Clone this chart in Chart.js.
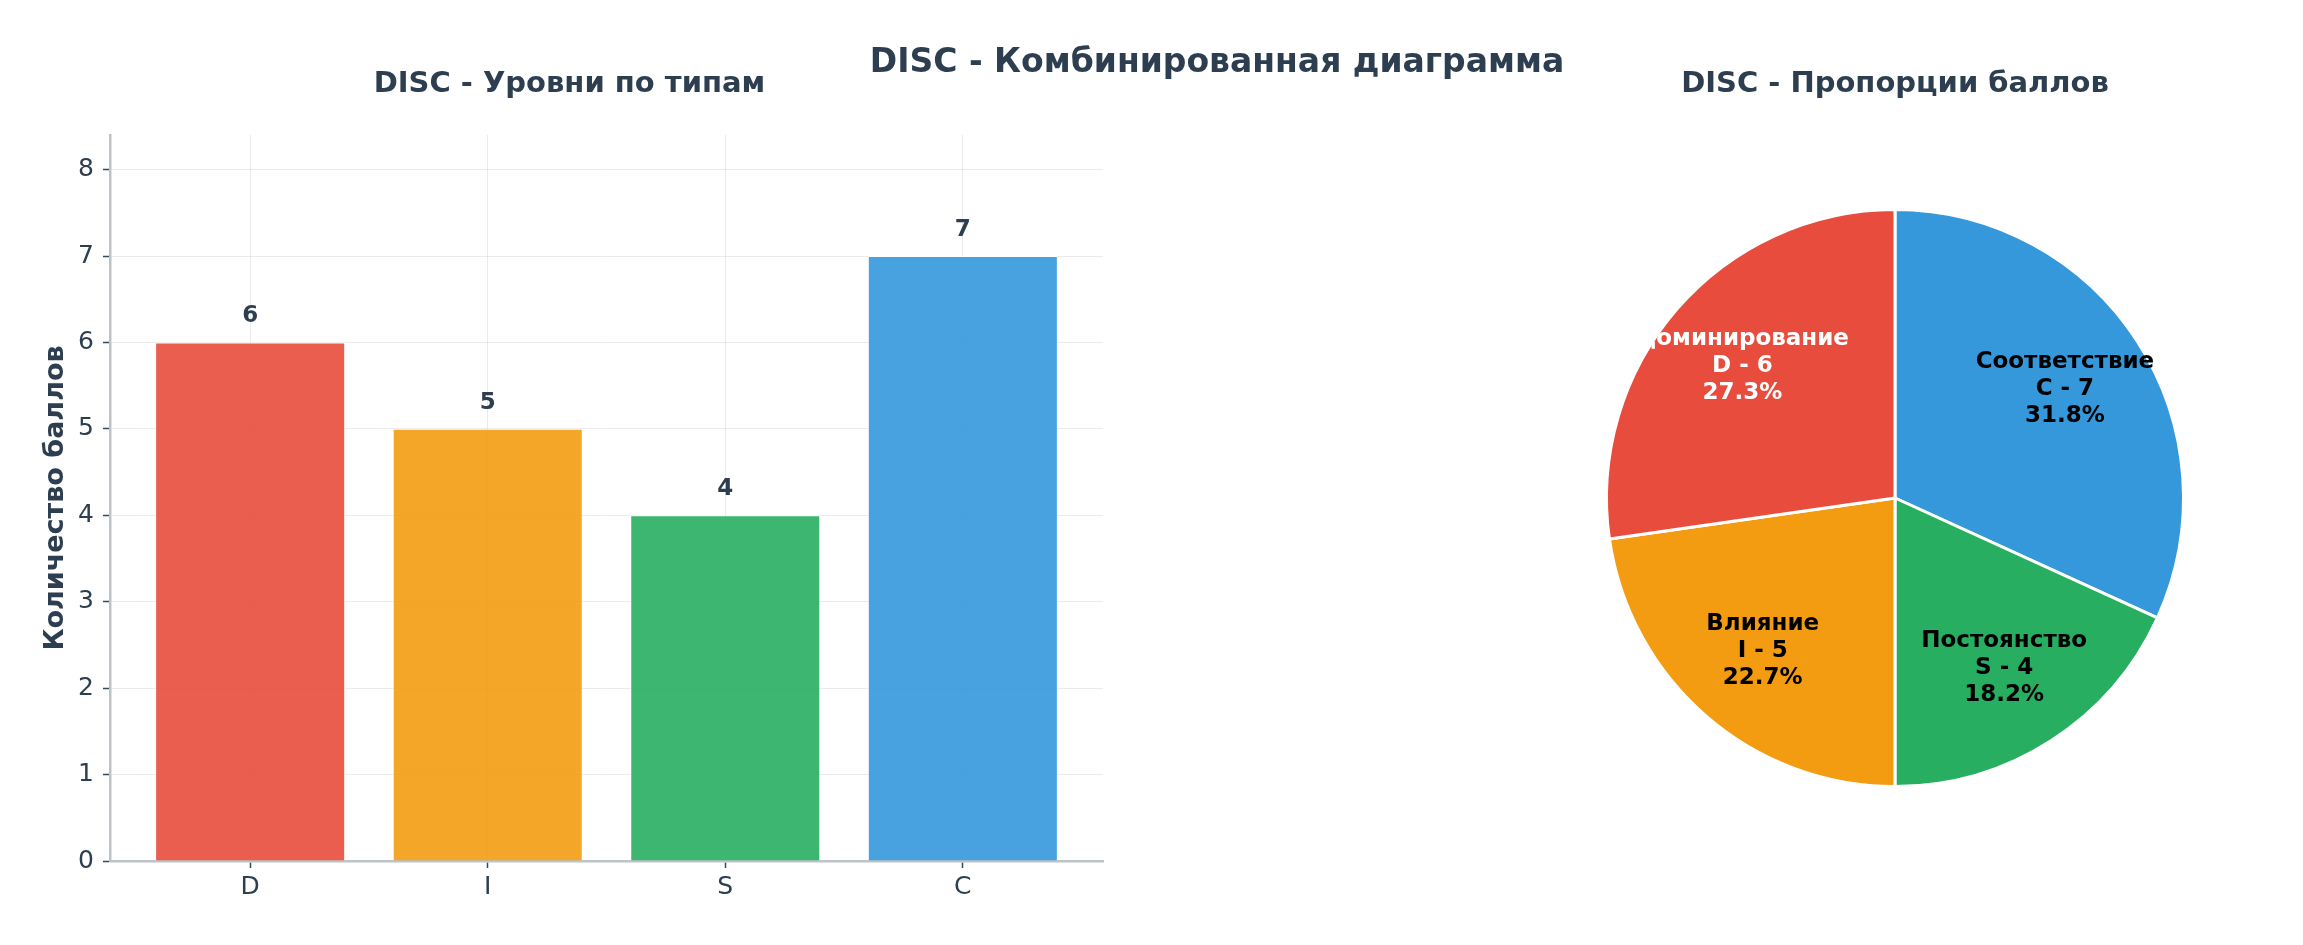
<!DOCTYPE html>
<html>
<head>
<meta charset="utf-8">
<script src="https://cdn.jsdelivr.net/npm/chart.js@4/dist/chart.umd.min.js"></script>
<style>
  body { margin: 0; background: #fff; width: 2303px; height: 945px; overflow: hidden; position: relative; font-family: "DejaVu Sans", sans-serif; }
  #barChart { position: absolute; left: 0; top: 0; }
  #pieChart { position: absolute; left: 1150px; top: 0; }
  #mainTitle { position: absolute; left: 0; width: 2434px; top: 41px; text-align: center; font: bold 33px "DejaVu Sans"; color: #2c3e50; line-height: 40px; }
</style>
</head>
<body>
<canvas id="barChart" width="1150" height="945"></canvas>
<canvas id="pieChart" width="1153" height="945"></canvas>
<div id="mainTitle">DISC - Комбинированная диаграмма</div>
<script>
// данные DISC
const categories = ["D", "I", "S", "C"];
const names = ["Доминирование", "Влияние", "Постоянство", "Соответствие"];
const scores = [6, 5, 4, 7];
const yTicks = [0, 1, 2, 3, 4, 5, 6, 7, 8];

const barColors = ["rgba(231,76,60,0.9)", "rgba(243,156,18,0.9)", "rgba(39,174,96,0.9)", "rgba(52,152,219,0.9)"];
const pieColors = ["#e74c3c", "#f39c12", "#27ae60", "#3498db"];
const pieTextColors = ["#ffffff", "#000000", "#000000", "#000000"];
const dark = "#2c3e50";

Chart.defaults.font.family = "DejaVu Sans";
Chart.defaults.color = dark;
Chart.defaults.animation = false;

// подписи над столбцами
const barValues = {
  id: "barValues",
  afterDatasetsDraw(chart) {
    const ctx = chart.ctx;
    ctx.save();
    ctx.font = "bold 23px 'DejaVu Sans'";
    ctx.fillStyle = dark;
    ctx.textAlign = "center";
    ctx.textBaseline = "middle";
    chart.getDatasetMeta(0).data.forEach((bar, i) => {
      ctx.fillText(String(scores[i]), bar.x, bar.y - 26);
    });
    ctx.restore();
  }
};

new Chart(document.getElementById("barChart"), {
  type: "bar",
  data: {
    datasets: [{
      data: scores.map((v, i) => ({ x: i, y: v })),
      backgroundColor: barColors,
      borderColor: "#ffffff",
      borderWidth: 1,
      barPercentage: 0.8,
      categoryPercentage: 1
    }]
  },
  options: {
    responsive: false,
    layout: { padding: { left: 36, right: 47, top: 0, bottom: 0 } },
    plugins: {
      legend: { display: false },
      tooltip: { enabled: false },
      title: {
        display: true,
        text: "DISC - Уровни по типам",
        font: { size: 29, weight: "bold" },
        color: dark,
        padding: { top: 66.6, bottom: 33.6 }
      }
    },
    scales: {
      x: {
        type: "linear",
        min: -0.59,
        max: 3.59,
        offset: false,
        afterBuildTicks: (scale) => { scale.ticks = categories.map((c, i) => ({ value: i })); },
        afterFit: (scale) => { scale.height = 84; },
        ticks: { callback: (v) => categories[v], font: { size: 25 }, color: dark, padding: 4 },
        grid: { offset: false, color: "rgba(0,0,0,0.08)", tickColor: "#34495e", tickWidth: 1.5, tickLength: 7 },
        border: { color: "#bdc3c7", width: 2.5 }
      },
      y: {
        min: 0,
        max: 8.4,
        afterBuildTicks: (scale) => { scale.ticks = yTicks.map((v) => ({ value: v })); },
        afterFit: (scale) => { scale.width = 74; },
        ticks: { font: { size: 25 }, color: dark, padding: 9 },
        grid: { color: "rgba(0,0,0,0.08)", tickColor: "#34495e", tickWidth: 1.5, tickLength: 7 },
        border: { color: "#bdc3c7", width: 2.5 },
        title: {
          display: true,
          text: "Количество баллов",
          font: { size: 27, weight: "bold" },
          color: dark
        }
      }
    }
  },
  plugins: [barValues]
});

// подписи внутри секторов
const pieOrder = [3, 2, 1, 0]; // по часовой стрелке от 12 часов
const total = scores.reduce((a, b) => a + b, 0);

const pieLabels = {
  id: "pieLabels",
  afterDatasetsDraw(chart) {
    const ctx = chart.ctx;
    ctx.save();
    ctx.font = "bold 23px 'DejaVu Sans'";
    ctx.textAlign = "center";
    ctx.textBaseline = "middle";
    chart.getDatasetMeta(0).data.forEach((arc, k) => {
      const i = pieOrder[k];
      const p = arc.getProps(["x", "y", "startAngle", "endAngle", "outerRadius"], true);
      const mid = (p.startAngle + p.endAngle) / 2;
      const r = p.outerRadius * 0.7;
      const cx = p.x + Math.cos(mid) * r;
      const cy = p.y + Math.sin(mid) * r;
      const lines = [names[i], categories[i] + " - " + scores[i], (scores[i] / total * 100).toFixed(1) + "%"];
      ctx.fillStyle = pieTextColors[i];
      lines.forEach((t, j) => ctx.fillText(t, cx, cy + (j - 1) * 27));
    });
    ctx.restore();
  }
};

new Chart(document.getElementById("pieChart"), {
  type: "pie",
  data: {
    labels: pieOrder.map((i) => names[i]),
    datasets: [{
      data: pieOrder.map((i) => scores[i]),
      backgroundColor: pieOrder.map((i) => pieColors[i]),
      borderColor: "#ffffff",
      borderWidth: 3
    }]
  },
  options: {
    responsive: false,
    layout: { padding: { left: 455, right: 118, top: 0, bottom: 157 } },
    plugins: {
      legend: { display: false },
      tooltip: { enabled: false },
      title: {
        display: true,
        text: "DISC - Пропорции баллов",
        font: { size: 29, weight: "bold" },
        color: dark,
        padding: { top: 66.6, bottom: 106.6 }
      }
    }
  },
  plugins: [pieLabels]
});
</script>
</body>
</html>
